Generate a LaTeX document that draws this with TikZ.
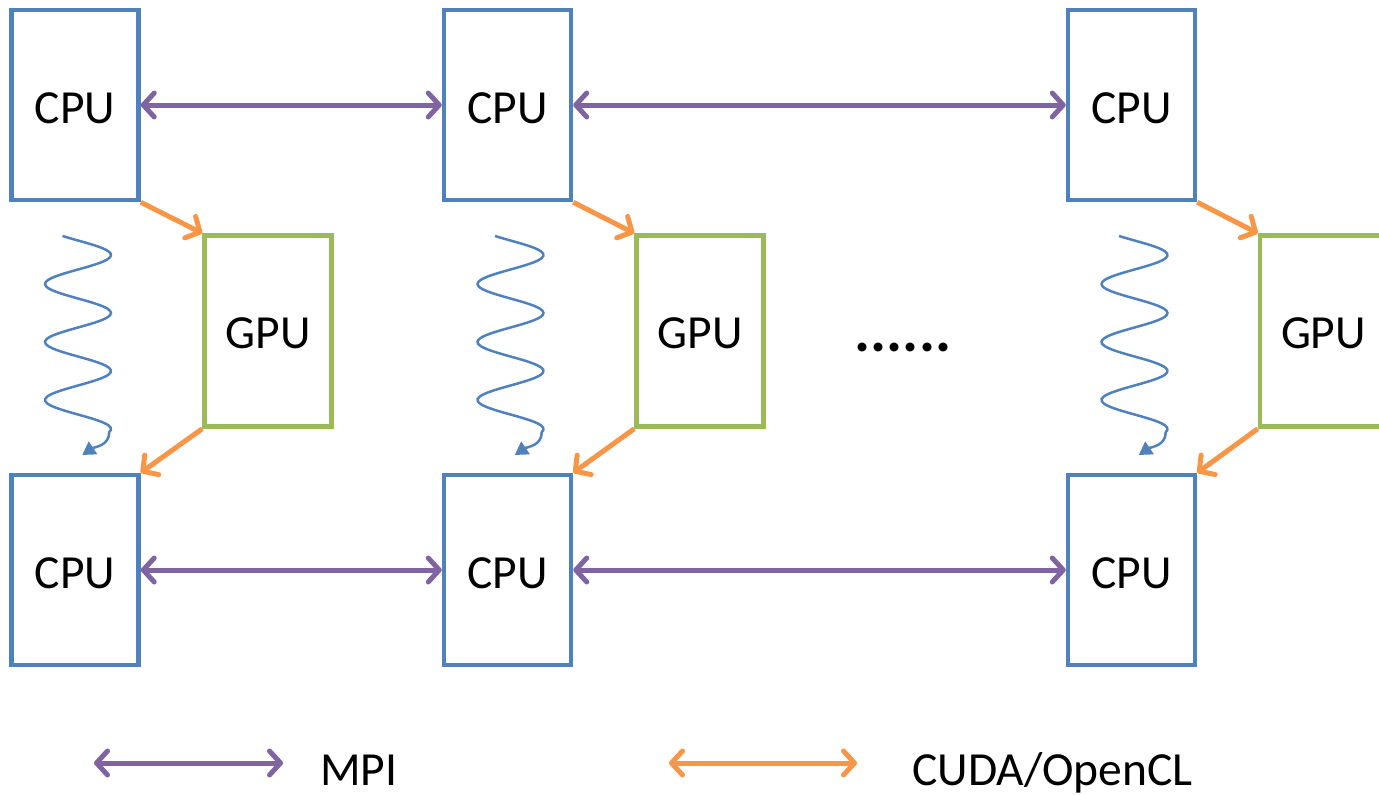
\documentclass[tikz,border=0pt]{standalone}
\usepackage{fontspec}
\setmainfont{Carlito}
\usetikzlibrary{arrows.meta}
\definecolor{cpublue}{HTML}{4F81BD}
\definecolor{gpugreen}{HTML}{9BBB59}
\definecolor{mpipurple}{HTML}{8064A2}
\definecolor{cudaorange}{HTML}{F79646}
\begin{document}
\begin{tikzpicture}[x=1pt,y=-1pt,
  bigfont/.style={font=\fontsize{47.5}{50}\selectfont},
  cpubox/.style={draw=cpublue, line width=4.5pt, minimum width=127pt, minimum height=190pt, inner sep=0pt, bigfont, text height=37pt, text depth=0pt},
  gpubox/.style={draw=gpugreen, line width=4.5pt, minimum width=127pt, minimum height=191pt, inner sep=0pt, bigfont, text height=35pt, text depth=0pt},
  barb/.tip={Straight Barb[length=11pt,width=24pt,round]},
  mpiarrow/.style={draw=mpipurple, line width=5pt, barb-barb},
  cudaarrow/.style={draw=cudaorange, line width=5pt, -barb},
  cudalegend/.style={draw=cudaorange, line width=5pt, barb-barb},
  wave/.style={draw=cpublue, line width=2.5pt, -{Triangle[length=13pt,width=15pt]}},
  legendtext/.style={bigfont, anchor=base west, inner sep=0pt}
]
\useasboundingbox (0,0) rectangle (1379,795);
\clip (0,0) rectangle (1379,795);

\foreach \i/\dx/\gx in {1/0/0, 2/432.5/432, 3/1056.5/1055.5}{
  \node[cpubox] (cpuT\i) at ({75+\dx},105) {CPU};
  \node[cpubox] (cpuB\i) at ({75+\dx},570) {CPU};
  \node[gpubox] (gpu\i) at ({268+\gx},331) {GPU};
  \draw[cudaarrow] (cpuT\i.south east) -- (gpu\i.north west);
  \draw[cudaarrow] (gpu\i.south west) -- (cpuB\i.north east);
  \draw[wave] plot[domain=236:432, samples=90, smooth, variable=\t]
     ({\dx+78+33*sin(6.2069*(\t-240.5))},{\t})
     .. controls +(0,14) and +(12,-8) .. ++(-27,23);
}

\draw[mpiarrow] (cpuT1.east) -- (cpuT2.west);
\draw[mpiarrow] (cpuT2.east) -- (cpuT3.west);
\draw[mpiarrow] (cpuB1.east) -- (cpuB2.west);
\draw[mpiarrow] (cpuB2.east) -- (cpuB3.west);

\node[font=\fontsize{60}{62}\selectfont\bfseries, anchor=base, inner sep=0pt] (dots) at (903,351) {......};

\coordinate (mpiL) at (94,763);
\coordinate (mpiR) at (283,763);
\draw[mpiarrow] (mpiL) -- (mpiR);
\node[legendtext] (mpitext) at (320,785) {MPI};

\coordinate (cudaL) at (669,763);
\coordinate (cudaR) at (857,763);
\draw[cudalegend] (cudaL) -- (cudaR);
\node[legendtext] (cudatext) at (912,785) {CUDA/OpenCL};
\end{tikzpicture}
\end{document}
